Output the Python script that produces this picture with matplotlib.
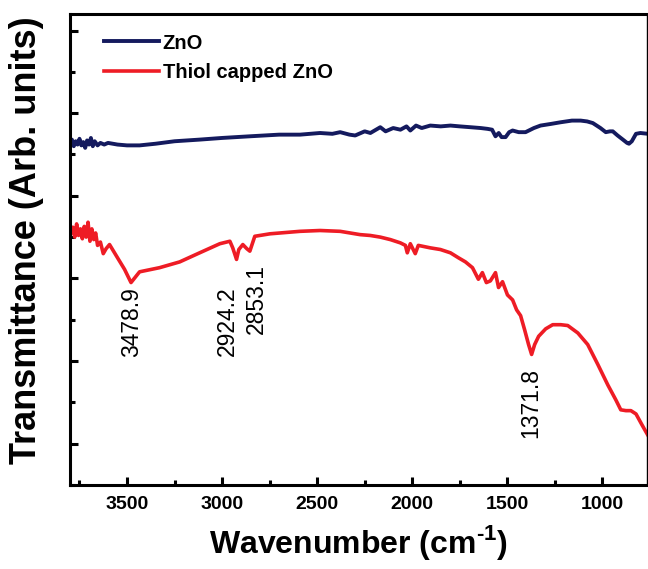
"""
FTIR transmittance spectra: bare ZnO vs thiol capped ZnO.
"""

import matplotlib.pyplot as plt
import matplotlib as mpl
from matplotlib.ticker import MultipleLocator, NullFormatter

NAVY = "#141a5e"
RED = "#ee1c25"

# --- data ---

zno_wn = [3800, 3790, 3780, 3770, 3760, 3750, 3740, 3730, 3720, 3710,
          3700, 3690, 3680, 3670, 3655, 3640, 3620, 3600, 3550, 3500,
          3434, 3350, 3250, 3118, 3000, 2854, 2700, 2590, 2485, 2420,
          2379, 2330, 2300, 2250, 2220, 2168, 2140, 2100, 2062, 2030,
          2010, 1980, 1950, 1905, 1850, 1799, 1750, 1694, 1640, 1604,
          1580, 1562, 1545, 1530, 1509, 1490, 1472, 1440, 1404, 1360,
          1325, 1270, 1219, 1160, 1114, 1080, 1050, 1010, 982, 960,
          945, 920, 892, 870, 860, 845, 823, 800, 760]
zno_t = [3.64, 3.68, 3.60, 3.66, 3.62, 3.69, 3.61, 3.65, 3.58, 3.67,
         3.62, 3.70, 3.60, 3.66, 3.61, 3.64, 3.62, 3.64, 3.62, 3.61,
         3.61, 3.63, 3.66, 3.68, 3.70, 3.72, 3.74, 3.74, 3.76, 3.75,
         3.77, 3.74, 3.73, 3.78, 3.76, 3.83, 3.78, 3.82, 3.80, 3.84,
         3.79, 3.85, 3.82, 3.85, 3.84, 3.85, 3.84, 3.83, 3.82, 3.81,
         3.80, 3.72, 3.76, 3.71, 3.71, 3.77, 3.79, 3.77, 3.77, 3.82,
         3.85, 3.87, 3.89, 3.91, 3.91, 3.90, 3.88, 3.82, 3.77, 3.78,
         3.78, 3.73, 3.68, 3.64, 3.63, 3.66, 3.75, 3.76, 3.75]

thiol_wn = [3795, 3785, 3775, 3765, 3755, 3745, 3735, 3725, 3715, 3705,
            3695, 3685, 3675, 3665, 3655, 3640, 3625, 3610, 3592, 3550,
            3513, 3479, 3434, 3329, 3223, 3118, 3012, 2959, 2944, 2924,
            2912, 2891, 2870, 2854, 2828, 2748, 2590, 2485, 2379, 2274,
            2221, 2168, 2115, 2062, 2036, 2026, 2010, 1984, 1968, 1905,
            1852, 1799, 1757, 1720, 1683, 1652, 1631, 1610, 1589, 1562,
            1546, 1525, 1499, 1472, 1451, 1430, 1409, 1388, 1372, 1356,
            1335, 1298, 1261, 1219, 1182, 1129, 1077, 1024, 971, 929,
            903, 876, 850, 823, 792, 760]
thiol_t = [2.55, 2.62, 2.50, 2.66, 2.52, 2.60, 2.48, 2.63, 2.50, 2.68,
           2.45, 2.60, 2.47, 2.55, 2.40, 2.44, 2.30, 2.36, 2.41, 2.25,
           2.11, 1.95, 2.08, 2.13, 2.20, 2.31, 2.42, 2.45, 2.37, 2.23,
           2.35, 2.41, 2.36, 2.33, 2.51, 2.54, 2.57, 2.58, 2.57, 2.53,
           2.52, 2.50, 2.47, 2.43, 2.40, 2.31, 2.42, 2.30, 2.40, 2.37,
           2.35, 2.31, 2.25, 2.20, 2.13, 1.99, 2.07, 1.95, 1.97, 2.07,
           1.89, 1.96, 1.80, 1.74, 1.62, 1.55, 1.38, 1.20, 1.08, 1.20,
           1.30, 1.39, 1.44, 1.44, 1.43, 1.34, 1.20, 0.96, 0.71, 0.53,
           0.41, 0.40, 0.40, 0.36, 0.23, 0.10]

peak_wn = [3478.9, 2924.2, 2853.1, 1371.8]
peak_x = [3478, 2970, 2819, 1377]
peak_top = [1.89, 1.90, 2.17, 0.92]


mpl.rcParams.update({
    "font.family": ["Liberation Sans", "DejaVu Sans"],
    "mathtext.fontset": "custom",
    "mathtext.rm": "Liberation Sans:bold",
    "mathtext.bf": "Liberation Sans:bold",
    "axes.linewidth": 2.2,
})

fig = plt.figure(figsize=(6.48, 5.69), dpi=100)
ax = fig.add_axes([0.108, 0.1476, 0.8905, 0.8278])

ax.plot(zno_wn, zno_t, color=NAVY, linewidth=2.8, label="ZnO")
ax.plot(thiol_wn, thiol_t, color=RED, linewidth=2.6,
        label="Thiol capped ZnO")

for x, top, wn in zip(peak_x, peak_top, peak_wn):
    ax.text(x, top, f"{wn:.1f}", rotation=90, ha="center", va="top",
            fontsize=16.5, color="black")

ax.set_xlim(3800, 765)
ax.set_ylim(-0.5, 5.2)

ax.xaxis.set_major_locator(MultipleLocator(500))
ax.xaxis.set_minor_locator(MultipleLocator(250))
ax.yaxis.set_major_locator(MultipleLocator(1))
ax.yaxis.set_minor_locator(MultipleLocator(0.5))
ax.yaxis.set_major_formatter(NullFormatter())

ax.tick_params(which="both", direction="in", width=2.2,
               top=False, right=False)
ax.tick_params(which="major", length=6)
ax.tick_params(which="minor", length=3.5)
ax.tick_params(axis="x", labelsize=14, pad=8)
for lab in ax.get_xticklabels():
    lab.set_fontweight("bold")

ax.spines["right"].set_linewidth(1.0)

ax.set_xlabel(r"Wavenumber (cm$^{\text{-1}}$)", fontsize=23,
              fontweight="bold", labelpad=7)
ax.set_ylabel("Transmittance (Arb. units)", fontsize=26,
              fontweight="bold")
ax.yaxis.set_label_coords(-0.045, 0.52)

ax.legend(loc="upper left", bbox_to_anchor=(0.028, 0.997), frameon=False,
          handlelength=2.7, handletextpad=0.2, labelspacing=0.5,
          prop={"size": 14.5, "weight": "bold"})

fig.savefig("out.png", dpi=100)
